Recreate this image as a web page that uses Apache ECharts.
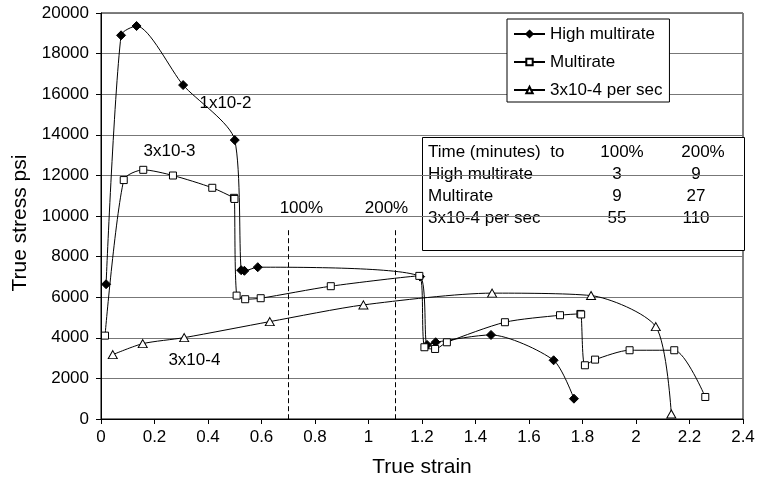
<!DOCTYPE html>
<html>
<head>
<meta charset="utf-8">
<script src="https://cdn.jsdelivr.net/npm/echarts@6/dist/echarts.min.js"></script>
<style>
  html, body { margin: 0; padding: 0; background: #fff; }
  #main { width: 758px; height: 485px; }
</style>
</head>
<body>
<div id="main"></div>
<script>
// strain, stress pairs
const highMultirate = [
  [0.019, 6640], [0.075, 18900], [0.133, 19360], [0.307, 16450], [0.5, 13740],
  [0.524, 7330], [0.536, 7300], [0.586, 7478], [1.193, 7015],
  [1.219, 3648], [1.251, 3781], [1.458, 4141], [1.692, 2893], [1.768, 1001]
];
const multirate = [
  [0.015, 4107], [0.085, 11770], [0.158, 12275], [0.269, 11995], [0.416, 11390],
  [0.497, 10895], [0.499, 10840], [0.507, 6079], [0.539, 5900], [0.597, 5950],
  [0.859, 6542], [1.19, 7050], [1.209, 3535], [1.249, 3450], [1.293, 3780],
  [1.51, 4767], [1.716, 5112], [1.792, 5176], [1.795, 5150], [1.809, 2647],
  [1.847, 2925], [1.976, 3387], [2.143, 3387], [2.259, 1085]
];
const slowRate = [
  [0.044, 3170], [0.156, 3712], [0.311, 4008], [0.631, 4797], [0.981, 5620],
  [1.462, 6200], [1.832, 6080], [2.074, 4551], [2.132, 246]
];
const seriesNames = ['High multirate', 'Multirate', '3x10-4 per sec'];

// table: time (minutes) to reach strain
const tableHeader = ['Time (minutes)  to', '100%', '200%'];
const to100 = [3, 9, 55];
const to200 = [9, 27, 110];

// strain marks for 100% / 200%
const strainMarks = [0.7, 1.1];
const strainMarkTop = 9300;

const chart = echarts.init(document.getElementById('main'));
const font = 'Liberation Sans, Arial, sans-serif';

const notes = [
  { name: '1x10-2', value: [0.467, 15530] },
  { name: '3x10-3', value: [0.258, 13163] },
  { name: '3x10-4', value: [0.351, 2860] },
  { name: '100%', value: [0.751, 10353] },
  { name: '200%', value: [1.069, 10353] }
];

const lineSeries = (name, data, symbol, size, fill) => ({
  name: name,
  type: 'line',
  data: data,
  smooth: 0.25,
  symbol: symbol,
  symbolSize: size,
  showAllSymbol: true,
  lineStyle: { color: '#000', width: 1 },
  itemStyle: { color: fill, borderColor: '#000', borderWidth: 1 },
  emphasis: { disabled: true },
  z: 3
});

// table graphic
const rowY = [152.5, 174.5, 196.5, 218.5];
const txt = (x, y, s, align) => ({
  type: 'text', x: x, y: y,
  style: { text: s, font: '17px ' + font, fill: '#000', align: align, verticalAlign: 'middle' }
});
const tableTexts = [
  txt(428, rowY[0], tableHeader[0], 'left'),
  txt(622, rowY[0], tableHeader[1], 'center'),
  txt(703, rowY[0], tableHeader[2], 'center')
];
seriesNames.forEach((n, i) => {
  const y = rowY[i + 1];
  tableTexts.push(txt(428, y, n, 'left'));
  tableTexts.push(txt(617, y, String(to100[i]), 'center'));
  tableTexts.push(txt(696, y, String(to200[i]), 'center'));
});

const option = {
  backgroundColor: '#fff',
  animation: false,
  textStyle: { fontFamily: font, color: '#000' },
  grid: {
    left: 101, right: 15, top: 13, bottom: 66,
    show: true, borderColor: '#000', borderWidth: 1, backgroundColor: 'transparent'
  },
  legend: {
    data: seriesNames,
    orient: 'vertical',
    left: 507,
    top: 19,
    padding: [6, 7, 3, 6],
    itemWidth: 31,
    itemHeight: 8,
    itemGap: 10,
    backgroundColor: '#fff',
    borderColor: '#000',
    borderWidth: 1,
    borderRadius: 0,
    textStyle: { fontSize: 17, color: '#000', fontFamily: font, lineHeight: 18 }
  },
  xAxis: {
    type: 'value',
    min: 0,
    max: 2.4,
    interval: 0.2,
    name: 'True strain',
    nameLocation: 'middle',
    nameGap: 38,
    nameTextStyle: { fontSize: 21, color: '#000', fontFamily: font },
    axisLine: { lineStyle: { color: '#000', width: 1 } },
    axisTick: { show: true, length: 5, lineStyle: { color: '#000' } },
    axisLabel: { fontSize: 17, color: '#000', margin: 10, fontFamily: font },
    splitLine: { show: false }
  },
  yAxis: {
    type: 'value',
    min: 0,
    max: 20000,
    interval: 2000,
    name: 'True stress psi',
    nameLocation: 'middle',
    nameGap: 67,
    nameTextStyle: { fontSize: 21, color: '#000', fontFamily: font, padding: [0, 14, 0, 0] },
    axisLine: { show: true, lineStyle: { color: '#000', width: 1 } },
    axisTick: { show: true, length: 5, lineStyle: { color: '#000' } },
    axisLabel: { fontSize: 17, color: '#000', margin: 12, fontFamily: font, formatter: v => String(v) },
    splitLine: { show: true, lineStyle: { color: '#777', width: 1 } }
  },
  graphic: [
    {
      type: 'group',
      z: 100,
      children: [
        { type: 'rect', shape: { x: 422.5, y: 137.5, width: 322, height: 113 }, style: { fill: '#fff', stroke: '#000', lineWidth: 1 } }
      ].concat(tableTexts)
    }
  ],
  series: [
    lineSeries(seriesNames[0], highMultirate, 'diamond', 9, '#000'),
    lineSeries(seriesNames[1], multirate, 'rect', 7, '#fff'),
    lineSeries(seriesNames[2], slowRate, 'triangle', [9, 8], '#fff'),
    {
      name: 'notes',
      type: 'scatter',
      data: notes,
      symbolSize: 1,
      silent: true,
      itemStyle: { color: 'rgba(0,0,0,0)', opacity: 1 },
      label: {
        show: true,
        position: [0, 0],
        align: 'center',
        verticalAlign: 'middle',
        formatter: '{b}',
        fontSize: 17,
        color: '#000',
        opacity: 1,
        textBorderWidth: 0,
        fontFamily: font
      },
      markLine: {
        silent: true,
        symbol: 'none',
        label: { show: false },
        lineStyle: { color: '#000', width: 1, type: [5, 3] },
        data: strainMarks.map(x => [{ coord: [x, strainMarkTop] }, { coord: [x, 0] }])
      },
      z: 2
    }
  ]
};

chart.setOption(option);
</script>
</body>
</html>
